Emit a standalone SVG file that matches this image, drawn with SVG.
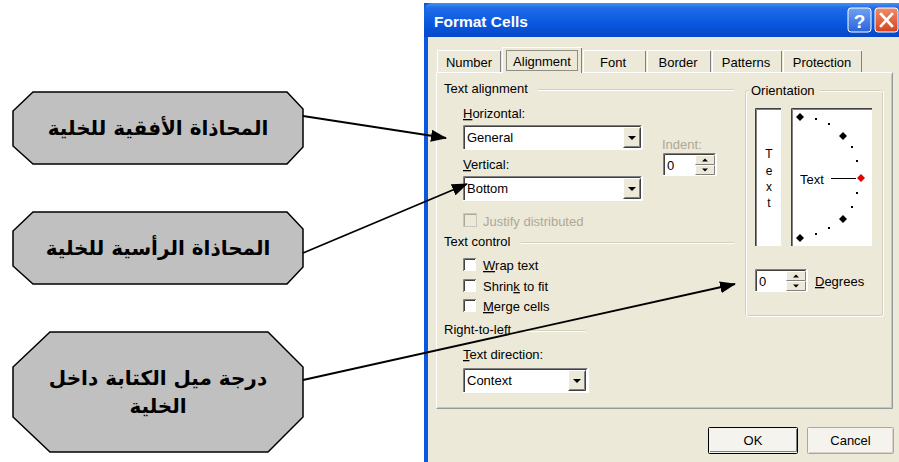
<svg xmlns="http://www.w3.org/2000/svg" width="899" height="462" viewBox="0 0 899 462">
  <defs>
    <linearGradient id="titleGrad" x1="0" y1="0" x2="0" y2="1">
      <stop offset="0" stop-color="#4A8EF2"/>
      <stop offset="0.15" stop-color="#1F6CE8"/>
      <stop offset="0.6" stop-color="#0A58DE"/>
      <stop offset="1" stop-color="#0648C8"/>
    </linearGradient>
    <linearGradient id="helpGrad" x1="0" y1="0" x2="0" y2="1">
      <stop offset="0" stop-color="#6FA2F5"/>
      <stop offset="1" stop-color="#2A63D8"/>
    </linearGradient>
    <linearGradient id="closeGrad" x1="0" y1="0" x2="0" y2="1">
      <stop offset="0" stop-color="#EE8C6C"/>
      <stop offset="1" stop-color="#D5421E"/>
    </linearGradient>
    <marker id="arrowHead" markerWidth="16" markerHeight="12" refX="15" refY="6" orient="auto" markerUnits="userSpaceOnUse">
      <path d="M0,0 L16,6 L0,12 Z" fill="#000"/>
    </marker>
    <!-- small drop-down arrow glyph -->
    <path id="ddTri" d="M-4,-2 L4,-2 L0,2 Z" fill="#000"/>
    <path id="upTri" d="M-3,1.5 L3,1.5 L0,-1.5 Z" fill="#000"/>
    <path id="dnTri" d="M-3,-1.5 L3,-1.5 L0,1.5 Z" fill="#000"/>
    <path id="dia" d="M0,-4 L4,0 L0,4 L-4,0 Z"/>
  </defs>
  <style>
    .ui { font-family: "Liberation Sans", Arial, sans-serif; font-size: 13px; fill: #000; }
    .dis { fill: #ACA899; }
    .ul { text-decoration: underline; }
    .etch { stroke: #D0D0BF; stroke-width: 1; fill: none; }
    .etchHi { stroke: #FFFFFF; stroke-width: 1; fill: none; }
    .field { fill: #FFFFFF; }
    .sunkDark { stroke: #404040; stroke-width: 1; fill: none; }
    .sunkMid { stroke: #808080; stroke-width: 1; fill: none; }
    .sunkHi { stroke: #FFFFFF; stroke-width: 1; fill: none; }
    .btnFace { fill: #ECE9D8; }
    .callout { fill: #C0C0C0; stroke: #000; stroke-width: 1.5; }
    .ar { font-family: "DejaVu Sans", "Noto Sans", sans-serif; font-weight: bold; font-size: 20px; fill: #000; }
    .conn { stroke: #000; stroke-width: 1.8; fill: none; marker-end: url(#arrowHead); }
  </style>

  <rect width="899" height="462" fill="#FFFFFF"/>

  <!-- Dialog window -->
  <g id="dialog">
    <rect x="424" y="3" width="475" height="459" fill="#0A58DE"/>
    <path d="M424,37 V12 Q424,3 433,3 H899 V37 Z" fill="url(#titleGrad)"/>
    <rect x="428" y="37" width="471" height="425" fill="#ECE9D8"/>
    <text x="434" y="27" font-family="Liberation Sans, Arial, sans-serif" font-weight="bold" font-size="15.5" fill="#FFFFFF">Format Cells</text>
    <!-- help button -->
    <rect x="848" y="8" width="23" height="24" rx="3" fill="url(#helpGrad)" stroke="#FFFFFF" stroke-width="1"/>
    <text x="859.5" y="28" text-anchor="middle" font-family="Liberation Sans, Arial, sans-serif" font-weight="bold" font-size="19" fill="#FFFFFF">?</text>
    <!-- close button -->
    <rect x="875" y="8" width="23" height="24" rx="3" fill="url(#closeGrad)" stroke="#FFFFFF" stroke-width="1"/>
    <path d="M881,14 L892,26 M892,14 L881,26" stroke="#FFFFFF" stroke-width="2.6" stroke-linecap="square"/>
  </g>

  <!-- Tabs -->
  <g id="tabs" class="ui">
    <g id="tab-number">
      <path d="M437.5,72 V50.5 H500.5 V72" fill="#ECE9D8" stroke="#FFFFFF"/>
      <path d="M500.5,51 V72" stroke="#808080"/>
      <text x="469" y="67" text-anchor="middle">Number</text>
    </g>
    <g id="tab-font">
      <path d="M583.5,72 V50.5 H645.5 V72" fill="#ECE9D8" stroke="#FFFFFF"/>
      <path d="M645.5,51 V72" stroke="#808080"/>
      <text x="613" y="67" text-anchor="middle">Font</text>
    </g>
    <g id="tab-border">
      <path d="M647.5,72 V50.5 H710.5 V72" fill="#ECE9D8" stroke="#FFFFFF"/>
      <path d="M710.5,51 V72" stroke="#808080"/>
      <text x="678" y="67" text-anchor="middle">Border</text>
    </g>
    <g id="tab-patterns">
      <path d="M712.5,72 V50.5 H781.5 V72" fill="#ECE9D8" stroke="#FFFFFF"/>
      <path d="M781.5,51 V72" stroke="#808080"/>
      <text x="746" y="67" text-anchor="middle">Patterns</text>
    </g>
    <g id="tab-protection">
      <path d="M783.5,72 V50.5 H861.5 V72" fill="#ECE9D8" stroke="#FFFFFF"/>
      <path d="M861.5,51 V72" stroke="#808080"/>
      <text x="822" y="67" text-anchor="middle">Protection</text>
    </g>
  </g>

  <!-- Tab page frame -->
  <g id="page">
    <path d="M436.5,409 V72.5 H892.5" stroke="#FFFFFF" fill="none"/>
    <path d="M892.5,72.5 V408.5 H436.5" stroke="#919B9C" fill="none"/>
    <path d="M891.5,74 V407.5 H437.5" stroke="#C8C5B8" fill="none"/>
  </g>

  <!-- Selected tab (drawn over the page frame) -->
  <g id="tab-alignment" class="ui">
    <path d="M502.5,73 V47.5 H581.5 V73" fill="#ECE9D8" stroke="#FFFFFF"/>
    <path d="M581.5,48 V73" stroke="#808080"/>
    <rect x="503" y="72" width="78" height="2" fill="#ECE9D8"/>
    <rect x="506.5" y="50.5" width="71" height="20" fill="none" stroke="#333" stroke-width="1" stroke-dasharray="1,1"/>
    <text x="542" y="66" text-anchor="middle">Alignment</text>
  </g>

  <!-- Text alignment group -->
  <g id="text-alignment" class="ui">
    <text x="444" y="93">Text alignment</text>
    <line x1="538" y1="89.5" x2="734" y2="89.5" class="etch"/>
    <line x1="538" y1="90.5" x2="734" y2="90.5" class="etchHi"/>

    <text x="463" y="118"><tspan class="ul">H</tspan>orizontal:</text>
    <g id="combo-horizontal">
      <rect x="463" y="125" width="179" height="25" class="field"/>
      <path d="M463.5,149 V125.5 H641.5" class="sunkMid"/>
      <path d="M464.5,149 V126.5 H640.5" class="sunkDark"/>
      <path d="M463.5,149.5 H642.5 V125" class="sunkHi"/>
      <rect x="623" y="127" width="18" height="21" class="btnFace"/>
      <path d="M623.5,147.5 V127.5 H640.5" stroke="#FFFFFF" fill="none"/>
      <path d="M640.5,127.5 V147.5 H623.5" stroke="#404040" fill="none"/>
      <path d="M639.5,128.5 V146.5 H624.5" stroke="#808080" fill="none"/>
      <use href="#ddTri" x="632" y="138"/>
      <text x="467" y="142">General</text>
    </g>

    <text x="662" y="149" class="dis">Indent:</text>
    <g id="spin-indent">
      <rect x="663" y="153" width="53" height="23" class="field"/>
      <path d="M663.5,175 V153.5 H715.5" class="sunkMid"/>
      <path d="M664.5,175 V154.5 H714.5" class="sunkDark"/>
      <path d="M663.5,175.5 H716.5 V153" class="sunkHi"/>
      <rect x="695" y="155" width="20" height="10" class="btnFace"/>
      <rect x="695" y="165" width="20" height="10" class="btnFace"/>
      <path d="M695.5,164.5 V155.5 H714.5 M695.5,174.5 V165.5 H714.5" stroke="#FFFFFF" fill="none"/>
      <path d="M714.5,155.5 V164.5 H695.5 M714.5,165.5 V174.5 H695.5" stroke="#808080" fill="none"/>
      <use href="#upTri" x="705" y="160"/>
      <use href="#dnTri" x="705" y="170"/>
      <text x="667" y="170">0</text>
    </g>

    <text x="463" y="169"><tspan class="ul">V</tspan>ertical:</text>
    <g id="combo-vertical">
      <rect x="463" y="176" width="179" height="25" class="field"/>
      <path d="M463.5,200 V176.5 H641.5" class="sunkMid"/>
      <path d="M464.5,200 V177.5 H640.5" class="sunkDark"/>
      <path d="M463.5,200.5 H642.5 V176" class="sunkHi"/>
      <rect x="623" y="178" width="18" height="21" class="btnFace"/>
      <path d="M623.5,198.5 V178.5 H640.5" stroke="#FFFFFF" fill="none"/>
      <path d="M640.5,178.5 V198.5 H623.5" stroke="#404040" fill="none"/>
      <path d="M639.5,179.5 V197.5 H624.5" stroke="#808080" fill="none"/>
      <use href="#ddTri" x="632" y="189"/>
      <text x="467" y="193">Bottom</text>
    </g>

    <g id="chk-justify">
      <rect x="463.5" y="213.5" width="13" height="13" fill="#ECE9D8" stroke="#C9C7BA"/>
      <path d="M464.5,226 V214.5 H476" stroke="#ACA899" fill="none"/>
      <text x="483" y="226" class="dis">Justify distributed</text>
    </g>
  </g>

  <!-- Text control group -->
  <g id="text-control" class="ui">
    <text x="444" y="246">Text control</text>
    <line x1="521" y1="242.5" x2="734" y2="242.5" class="etch"/>
    <line x1="521" y1="243.5" x2="734" y2="243.5" class="etchHi"/>
    <g id="chk-wrap">
      <rect x="463" y="258" width="13" height="13" fill="#FFFFFF"/>
      <path d="M463.5,271 V258.5 H476" stroke="#808080" fill="none"/>
      <path d="M464.5,270 V259.5 H475" stroke="#404040" fill="none"/>
      <text x="483" y="270"><tspan class="ul">W</tspan>rap text</text>
    </g>
    <g id="chk-shrink">
      <rect x="463" y="279" width="13" height="13" fill="#FFFFFF"/>
      <path d="M463.5,292 V279.5 H476" stroke="#808080" fill="none"/>
      <path d="M464.5,291 V280.5 H475" stroke="#404040" fill="none"/>
      <text x="483" y="291">Shrin<tspan class="ul">k</tspan> to fit</text>
    </g>
    <g id="chk-merge">
      <rect x="463" y="299" width="13" height="13" fill="#FFFFFF"/>
      <path d="M463.5,312 V299.5 H476" stroke="#808080" fill="none"/>
      <path d="M464.5,311 V300.5 H475" stroke="#404040" fill="none"/>
      <text x="483" y="311"><tspan class="ul">M</tspan>erge cells</text>
    </g>
  </g>

  <!-- Right-to-left group -->
  <g id="right-to-left" class="ui">
    <text x="444" y="334">Right-to-left</text>
    <line x1="517" y1="330.5" x2="586" y2="330.5" class="etch"/>
    <line x1="517" y1="331.5" x2="586" y2="331.5" class="etchHi"/>
    <text x="463" y="359"><tspan class="ul">T</tspan>ext direction:</text>
    <g id="combo-direction">
      <rect x="463" y="368" width="125" height="25" class="field"/>
      <path d="M463.5,392 V368.5 H587.5" class="sunkMid"/>
      <path d="M464.5,392 V369.5 H586.5" class="sunkDark"/>
      <path d="M463.5,392.5 H588.5 V368" class="sunkHi"/>
      <rect x="568" y="370" width="18" height="21" class="btnFace"/>
      <path d="M568.5,390.5 V370.5 H585.5" stroke="#FFFFFF" fill="none"/>
      <path d="M585.5,370.5 V390.5 H568.5" stroke="#404040" fill="none"/>
      <path d="M584.5,371.5 V389.5 H569.5" stroke="#808080" fill="none"/>
      <use href="#ddTri" x="577" y="381"/>
      <text x="467" y="385">Context</text>
    </g>
  </g>

  <!-- Orientation group -->
  <g id="orientation" class="ui">
    <rect x="745.5" y="90.5" width="137" height="225" rx="2" class="etch"/>
    <rect x="746.5" y="91.5" width="137" height="225" rx="2" class="etchHi"/>
    <rect x="749" y="84" width="70" height="14" fill="#ECE9D8"/>
    <text x="751" y="95">Orientation</text>

    <g id="vertical-text-box">
      <rect x="755" y="108" width="27" height="139" fill="#FFFFFF"/>
      <path d="M755.5,247 V108.5 H782" stroke="#404040" stroke-width="1" fill="none"/>
      <path d="M756.5,246 V109.5 H781" stroke="#808080" stroke-width="1" fill="none"/>
      <path d="M755,246.5 H781.5 V108" stroke="#ECE9D8" fill="none"/>
      <g font-size="12" text-anchor="middle">
        <text x="769" y="158">T</text>
        <text x="769" y="175">e</text>
        <text x="769" y="191">x</text>
        <text x="769" y="207">t</text>
      </g>
    </g>

    <g id="dial-box">
      <rect x="791" y="108" width="82" height="139" fill="#FFFFFF"/>
      <path d="M791.5,247 V108.5 H873" stroke="#404040" fill="none"/>
      <path d="M792.5,246 V109.5 H872" stroke="#808080" fill="none"/>
      <path d="M791,246.5 H872.5 V108" stroke="#ECE9D8" fill="none"/>
      <use href="#dia" x="800" y="117" fill="#000"/>
      <use href="#dia" x="843" y="136" fill="#000"/>
      <use href="#dia" x="843" y="219" fill="#000"/>
      <use href="#dia" x="800" y="238" fill="#000"/>
      <use href="#dia" x="861" y="178" fill="#E00000"/>
      <g fill="#000">
        <rect x="815" y="118" width="2" height="2"/>
        <rect x="828" y="123" width="2" height="2"/>
        <rect x="851" y="146" width="2" height="2"/>
        <rect x="856" y="160" width="2" height="2"/>
        <rect x="856" y="192" width="2" height="2"/>
        <rect x="851" y="206" width="2" height="2"/>
        <rect x="828" y="227" width="2" height="2"/>
        <rect x="815" y="233" width="2" height="2"/>
      </g>
      <line x1="831" y1="178.5" x2="856" y2="178.5" stroke="#000" stroke-width="1"/>
      <text x="800" y="184">Text</text>
    </g>

    <g id="spin-degrees">
      <rect x="755" y="269" width="52" height="23" class="field"/>
      <path d="M755.5,291 V269.5 H806.5" class="sunkMid"/>
      <path d="M756.5,291 V270.5 H805.5" class="sunkDark"/>
      <path d="M755.5,291.5 H807.5 V269" class="sunkHi"/>
      <rect x="786" y="271" width="20" height="10" class="btnFace"/>
      <rect x="786" y="281" width="20" height="10" class="btnFace"/>
      <path d="M786.5,280.5 V271.5 H805.5 M786.5,290.5 V281.5 H805.5" stroke="#FFFFFF" fill="none"/>
      <path d="M805.5,271.5 V280.5 H786.5 M805.5,281.5 V290.5 H786.5" stroke="#808080" fill="none"/>
      <use href="#upTri" x="796" y="276"/>
      <use href="#dnTri" x="796" y="286"/>
      <text x="759" y="286">0</text>
    </g>
    <text x="815" y="286"><tspan class="ul">D</tspan>egrees</text>
  </g>

  <!-- Dialog buttons -->
  <g id="btn-ok" class="ui">
    <rect x="708.5" y="427.5" width="89" height="26" rx="1" fill="#F4F3EE" stroke="#000"/>
    <path d="M710,451.5 H796.5 V429" stroke="#808080" fill="none"/>
    <text x="753" y="445" text-anchor="middle">OK</text>
  </g>
  <g id="btn-cancel" class="ui">
    <rect x="807.5" y="427.5" width="86" height="26" rx="1" fill="#F4F3EE" stroke="#ACA899"/>
    <path d="M809,452.5 H892.5 V429" stroke="#D6D0C5" fill="none"/>
    <text x="850.5" y="445" text-anchor="middle">Cancel</text>
  </g>

  <!-- Callouts -->
  <g id="callout-horizontal">
    <path class="callout" d="M33,92 H287 L303,109 V147 L287,164 H33 L13,146 V111 Z"/>
    <text class="ar" x="158" y="135" text-anchor="middle" direction="rtl">المحاذاة الأفقية للخلية</text>
  </g>
  <g id="callout-vertical">
    <path class="callout" d="M33,212 H287 L303,229 V267 L287,284 H33 L13,266 V231 Z"/>
    <text class="ar" x="158" y="255" text-anchor="middle" direction="rtl">المحاذاة الرأسية للخلية</text>
  </g>
  <g id="callout-orientation">
    <path class="callout" d="M50,332 H268 L303,367 V417 L268,452 H50 L13,417 V367 Z"/>
    <text class="ar" x="158" y="385" text-anchor="middle" direction="rtl">درجة ميل الكتابة داخل</text>
    <text class="ar" x="158" y="413" text-anchor="middle" direction="rtl">الخلية</text>
  </g>

  <!-- Connectors -->
  <g id="connectors">
    <line class="conn" x1="303" y1="116" x2="446" y2="138"/>
    <line class="conn" x1="303" y1="253" x2="467" y2="184"/>
    <line class="conn" x1="303" y1="380" x2="735" y2="284"/>
  </g>
</svg>
